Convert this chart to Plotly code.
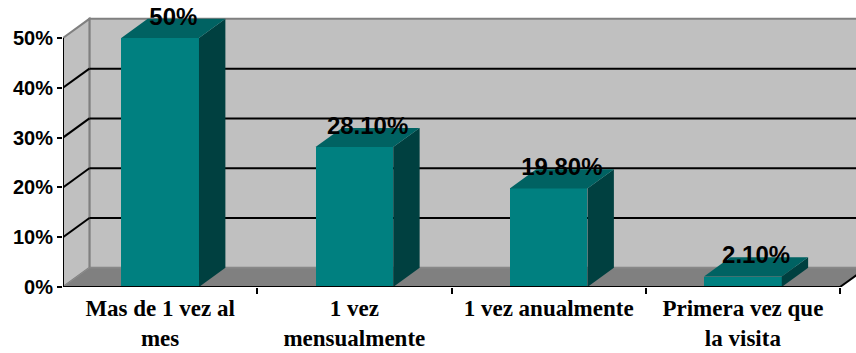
import plotly.graph_objects as go

# Frequency of visits (share of respondents)
categories = ["Mas de 1 vez al<br>mes", "1 vez<br>mensualmente", "1 vez anualmente", "Primera vez que<br>la visita"]
values = [50.0, 28.1, 19.8, 2.1]
y_ticks = [0, 10, 20, 30, 40, 50]
y_tick_text = ["0%", "10%", "20%", "30%", "40%", "50%"]

labels = [f"{v:g}%" if v == int(v) else f"{v:.2f}%" for v in values]

# 3-D look: depth offsets expressed in axis units
DX = 0.136   # horizontal depth (category units)
DY = 3.85    # vertical depth (percent units)
BAR_W = 0.40

WALL = "#C0C0C0"
FLOOR = "#808080"
EDGE = "#808080"
FRONT = "#008080"
SIDE = "#004040"
TOP = "#006262"

n = len(categories)
idx = list(range(n))
x0, x1 = -0.5, n - 0.5
ymax = y_ticks[-1]

fig = go.Figure()

shapes = []
# back wall
shapes.append(dict(type="rect", xref="x", yref="y", x0=x0 + DX, x1=x1 + DX + 0.5, y0=DY, y1=ymax + DY,
                   fillcolor=WALL, line=dict(color=EDGE, width=2), layer="below"))
# left wall
shapes.append(dict(type="path", xref="x", yref="y",
                   path=f"M {x0},0 L {x0},{ymax} L {x0 + DX},{ymax + DY} L {x0 + DX},{DY} Z",
                   fillcolor=WALL, line=dict(color=EDGE, width=2), layer="below"))
# floor
shapes.append(dict(type="path", xref="x", yref="y",
                   path=f"M {x0},0 L {x1},0 L {x1 + DX},{DY} L {x0 + DX},{DY} Z",
                   fillcolor=FLOOR, line=dict(color="#8c8c8c", width=1), layer="below"))
# gridlines on back and left walls
for v in y_ticks[1:-1]:
    shapes.append(dict(type="line", xref="x", yref="y", x0=x0 + DX, x1=x1 + DX + 0.5, y0=v + DY, y1=v + DY,
                       line=dict(color="black", width=2), layer="below"))
    shapes.append(dict(type="line", xref="x", yref="y", x0=x0, x1=x0 + DX, y0=v, y1=v + DY,
                       line=dict(color="black", width=2), layer="below"))
# front edges (axis lines)
shapes.append(dict(type="line", xref="x", yref="y", x0=x0, x1=x1, y0=0, y1=0,
                   line=dict(color="black", width=2), layer="above"))
shapes.append(dict(type="line", xref="x", yref="y", x0=x1, x1=x1 + DX, y0=0, y1=DY,
                   line=dict(color="black", width=2), layer="above"))
shapes.append(dict(type="line", xref="x", yref="y", x0=x0, x1=x0, y0=0, y1=ymax,
                   line=dict(color="black", width=2), layer="above"))

# bar fronts
fig.add_trace(go.Bar(x=idx, y=values, width=BAR_W, marker=dict(color=FRONT, line=dict(width=0)),
                     hoverinfo="skip", showlegend=False))

# bar sides and tops
for i, v in zip(idx, values):
    xr = i + BAR_W / 2
    xl = i - BAR_W / 2
    fig.add_trace(go.Scatter(x=[xr, xr, xr + DX, xr + DX, xr], y=[0, v, v + DY, DY, 0],
                             fill="toself", fillcolor=SIDE, mode="lines", line=dict(width=0, color=SIDE),
                             hoverinfo="skip", showlegend=False))
    fig.add_trace(go.Scatter(x=[xl, xr, xr + DX, xl + DX, xl], y=[v, v, v + DY, v + DY, v],
                             fill="toself", fillcolor=TOP, mode="lines", line=dict(width=0, color=TOP),
                             hoverinfo="skip", showlegend=False))

# value labels
fig.add_trace(go.Scatter(x=[i + DX / 2 for i in idx], y=[v + DY for v in values], mode="text",
                         text=labels, textposition="middle center",
                         textfont=dict(family="Arial, Liberation Sans, sans-serif", size=24, color="black", weight=700),
                         cliponaxis=False, hoverinfo="skip", showlegend=False))

plot_w = 856 - 63
cat_px = (840 - 63) / n
fig.update_layout(
    width=856, height=353,
    margin=dict(l=63, r=0, t=0, b=66, pad=0, autoexpand=False),
    paper_bgcolor="white", plot_bgcolor="white",
    shapes=shapes,
    xaxis=dict(range=[x0, x0 + plot_w / cat_px], tickmode="array", tickvals=idx, ticktext=categories,
               ticks="", showgrid=False, zeroline=False, showline=False, ticklabelstandoff=5,
               tickfont=dict(family="Liberation Serif, Times New Roman, serif", size=23, color="black", weight=700),
               minor=dict(tickmode="array", tickvals=[i + 0.5 for i in idx], ticks="outside", ticklen=6,
                          tickwidth=2, tickcolor="black", showgrid=False),
               fixedrange=True),
    yaxis=dict(range=[0, 287 / 4.98], tickmode="array", tickvals=y_ticks, ticktext=y_tick_text,
               ticks="outside", ticklen=5, tickwidth=2, tickcolor="black",
               showgrid=False, zeroline=False, showline=False,
               tickfont=dict(family="Arial, Liberation Sans, sans-serif", size=20, color="black", weight=700),
               fixedrange=True),
    bargap=0,
)

fig.write_html("out.html")
